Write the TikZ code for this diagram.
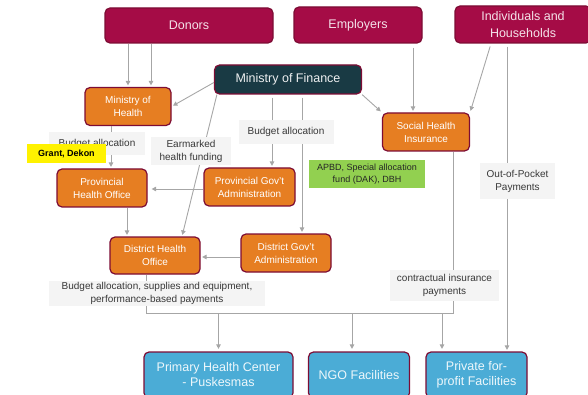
\documentclass[tikz,border=0pt]{standalone}
\usepackage{fontspec}
\setmainfont{Liberation Sans}
\usetikzlibrary{arrows.meta,positioning}
\definecolor{crimson}{RGB}{165,12,70}
\definecolor{crimsondark}{RGB}{125,12,52}
\definecolor{orangebox}{RGB}{230,126,34}
\definecolor{bluebox}{RGB}{75,172,214}
\definecolor{tealbox}{RGB}{25,58,68}
\definecolor{flowgrey}{RGB}{166,166,166}
\definecolor{labelgrey}{RGB}{244,244,244}
\definecolor{apbdgreen}{RGB}{146,208,80}

\begin{document}
\begin{tikzpicture}[x=1pt,y=-1pt]

\tikzset{box/.style={shape=rectangle,rounded corners=5pt,draw=crimsondark,line width=1.2pt,align=center,inner sep=0pt},
source/.style={box,fill=crimson,text=white!88!crimson,font=\fontsize{12.5}{17}\selectfont},
agency/.style={box,fill=orangebox,text=white,font=\fontsize{10}{13}\selectfont,minimum width=88pt,minimum height=38pt},
facility/.style={box,fill=bluebox,text=white!90!bluebox,font=\fontsize{12.5}{15}\selectfont,minimum height=46pt},
flowlabel/.style={fill=labelgrey,text=black!78,align=center,inner sep=0pt,font=\fontsize{10}{13}\selectfont},
flow/.style={draw=flowgrey,line width=0.9pt,-{Triangle[length=4.5pt,width=4.5pt]},shorten >=1.5pt},
feed/.style={draw=flowgrey,line width=0.9pt}}

\useasboundingbox (0,0) rectangle (588,395);

% Funding sources
\node (donors) [source,minimum width=168pt,minimum height=35pt] at (189,25.5) {Donors};
\node (employers) [source,minimum width=128pt,minimum height=36pt] at (358,25) {Employers};
\node (hh) [source,minimum width=136pt,minimum height=37pt] at (523,24.5) {Individuals and\\Households};
\node (mof) [box,fill=tealbox,text=white!92!tealbox,font=\fontsize{12.5}{15}\selectfont,minimum width=147pt,minimum height=29pt] at (288,79.5) {Ministry of Finance};

% Agencies
\node (moh) [agency,minimum width=86pt] at (128,106.5) {Ministry of\\Health};
\node (shi) [agency,minimum width=87pt] at (426,132) {Social Health\\Insurance};
\node (pho) [agency,minimum width=90pt] at (102,188) {Provincial\\Health Office};
\node (pga) [agency,minimum width=91pt] at (249.5,187) {Provincial Gov't\\Administration};
\node (dho) [agency,minimum width=90pt,minimum height=37pt] at (155,255.5) {District Health\\Office};
\node (dga) [agency,minimum width=90pt] at (286,253) {District Gov't\\Administration};

% Facilities
\node (phc) [facility,minimum width=149pt] at (218.5,375) {Primary Health Center\\- Puskesmas};
\node (ngo) [facility,minimum width=101pt] at (359,375) {NGO Facilities};
\node (pfp) [facility,minimum width=101pt] at (476.5,375) {Private for-\\profit Facilities};

% Edges
\draw[flow] (donors.south -| moh.north) -- (moh.north);
\draw[flow] ([xshift=23pt]moh.north |- donors.south) -- ([xshift=23pt]moh.north);
\draw[flow] ([yshift=-3pt]mof.west) -- (moh.east);
\draw[flow] ([xshift=3pt]mof.south west) -- ([xshift=27pt]dho.north);
\draw[flow,shorten <=3pt] ([xshift=22.5pt]pga.north |- mof.south) -- ([xshift=22.5pt]pga.north);
\draw[flow,shorten <=3pt] ([xshift=16pt]dga.north |- mof.south) -- ([xshift=16pt]dga.north);
\draw[flow] (mof.south east) -- (shi.north west);
\draw[flow,shorten <=4pt] ([xshift=-13pt]shi.north |- employers.south) -- ([xshift=-13pt]shi.north);
\draw[flow,shorten <=3pt] ([xshift=-32pt]hh.south) -- (shi.north east);
\draw[flow,shorten <=3pt] ([xshift=30.5pt]pfp.north |- hh.south) -- ([xshift=30.5pt]pfp.north);
\draw[flow] ([xshift=-17pt]moh.south) -- ([xshift=-17pt]moh.south |- pho.north);
\draw[flow,shorten >=4pt] ([yshift=-2pt]pga.west) -- ([yshift=-1pt]pho.east);
\draw[flow] ([xshift=25pt]pho.south) -- ([xshift=25pt]pho.south |- dho.north);
\draw[flow] ([yshift=-4pt]dga.west) -- ([yshift=-1.5pt]dho.east);

% Payments to facilities
\coordinate (bus) at (0,313);
\coordinate (dhoout) at ([xshift=-9pt]dho.south);
\coordinate (shiout) at ([xshift=27pt]shi.south);
\coordinate (ngoin) at ([xshift=-7pt]ngo.north);
\coordinate (pfpin) at ([xshift=-34.5pt]pfp.north);
\draw[feed] (dhoout) |- (bus -| shiout) -- (shiout);
\draw[flow,shorten >=2.5pt] (bus -| phc.north) -- (phc.north);
\draw[flow,shorten >=2.5pt] (bus -| ngoin) -- (ngoin);
\draw[flow,shorten >=2.5pt] (bus -| pfpin) -- (pfpin);

% Labels
\node (lbmoh) [flowlabel,minimum width=96pt,minimum height=23pt] at (97,144) {Budget allocation};
\node (lbgrant) [fill=yellow,inner sep=0pt,font=\fontsize{9}{11}\selectfont\bfseries,minimum width=79pt,minimum height=19pt] at (66.5,153.5) {Grant, Dekon};
\node (lbearmark) [flowlabel,minimum width=80pt,minimum height=28pt] at (191,151) {Earmarked\\health funding};
\node (lbmof) [flowlabel,minimum width=95pt,minimum height=24pt] at (286,132) {Budget allocation};
\node (lbapbd) [flowlabel,fill=apbdgreen,text=black!85,font=\fontsize{9}{11.5}\selectfont,minimum width=116pt,minimum height=28pt] at (367,174) {APBD, Special allocation\\fund (DAK), DBH};
\node (lboop) [flowlabel,minimum width=75pt,minimum height=36pt] at (517.5,181) {Out-of-Pocket\\Payments};
\node (lbcontract) [flowlabel,minimum width=109pt,minimum height=31pt] at (444.5,285.5) {contractual insurance\\payments};
\node (lbdho) [flowlabel,minimum width=216pt,minimum height=25pt] at (157,293) {Budget allocation, supplies and equipment,\\performance-based payments};

\end{tikzpicture}
\end{document}
